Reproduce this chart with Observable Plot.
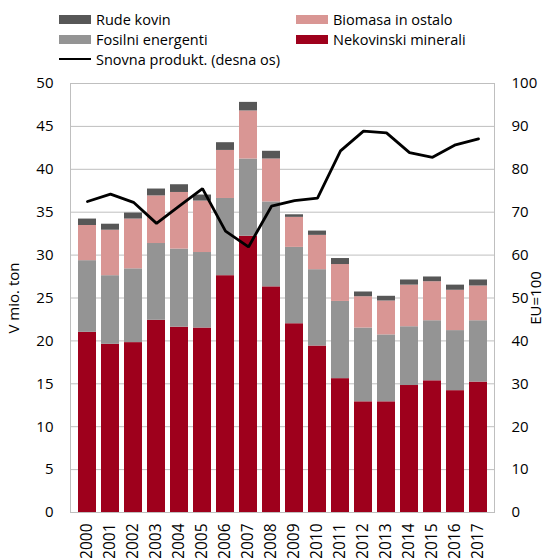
<!DOCTYPE html>
<html>
<head>
<meta charset="utf-8">
<script src="https://cdn.jsdelivr.net/npm/d3@7"></script>
<script src="https://cdn.jsdelivr.net/npm/@observablehq/plot@0.6"></script>
<style>
  html, body { margin: 0; padding: 0; background: #fff; overflow: hidden; }
  #wrap { position: relative; width: 556px; height: 558px; overflow: hidden; font-family: "Open Sans", sans-serif; }
  #legend { position: absolute; left: 0; top: 0; width: 556px; height: 70px; font-size: 14.5px; color: #000; }
  .item { position: absolute; display: flex; align-items: center; white-space: nowrap; }
  .sw { width: 32px; height: 9px; margin-right: 5px; }
  .ln { width: 32px; height: 2.5px; background: #000; margin-right: 5px; }
  #chart { position: absolute; left: 0; top: 70px; }
</style>
</head>
<body>
<div id="wrap">
  <div id="legend"></div>
  <div id="chart"></div>
</div>
<script>
const years = ["2000","2001","2002","2003","2004","2005","2006","2007","2008","2009","2010","2011","2012","2013","2014","2015","2016","2017"];
const seriesNames = ["Nekovinski minerali","Fosilni energenti","Biomasa in ostalo","Rude kovin"];
const nekovinski = [21.0,19.6,19.8,22.4,21.6,21.5,27.6,32.2,26.3,22.0,19.4,15.6,12.9,12.9,14.8,15.35,14.2,15.2];
const fosilni   = [8.35,8.0,8.6,8.95,9.1,8.8,9.0,9.0,9.9,8.9,8.9,9.0,8.6,7.8,6.85,7.0,7.0,7.15];
const biomasa   = [4.1,5.3,5.8,5.55,6.6,6.0,5.6,5.6,5.0,3.5,4.0,4.3,3.65,3.95,4.85,4.55,4.7,4.05];
const rude      = [0.75,0.7,0.7,0.8,0.9,0.7,0.9,1.0,0.9,0.3,0.5,0.7,0.55,0.55,0.6,0.55,0.6,0.7];
const produkt   = [72.5,74.2,72.3,67.4,71.5,75.5,65.6,61.9,71.4,72.7,73.3,84.3,88.9,88.5,83.9,82.8,85.7,87.1];
const leftTicks = [0,5,10,15,20,25,30,35,40,45,50];
const rightTicks = [0,10,20,30,40,50,60,70,80,90,100];
const colors = ["#9e001c","#949494","#d99694","#575757"];
const lineLabel = "Snovna produkt. (desna os)";

const valuesBySeries = [nekovinski, fosilni, biomasa, rude];
const rows = [];
seriesNames.forEach((s, si) => years.forEach((y, i) => rows.push({year: y, series: s, value: valuesBySeries[si][i]})));
const lineRows = years.map((y, i) => ({year: y, v: produkt[i]}));

// legend
const legend = document.getElementById("legend");
const legItems = [
  {label: "Rude kovin", color: colors[3], x: 59, y: 19},
  {label: "Biomasa in ostalo", color: colors[2], x: 296, y: 19},
  {label: "Fosilni energenti", color: colors[1], x: 59, y: 39},
  {label: "Nekovinski minerali", color: colors[0], x: 296, y: 39},
  {label: lineLabel, line: true, x: 59, y: 59}
];
legItems.forEach(it => {
  const d = document.createElement("div");
  d.className = "item";
  d.style.left = it.x + "px";
  d.style.top = (it.y - 10) + "px";
  d.style.height = "20px";
  const s = document.createElement("div");
  s.className = it.line ? "ln" : "sw";
  if (!it.line) s.style.background = it.color;
  d.appendChild(s);
  const t = document.createElement("span");
  t.textContent = it.label;
  d.appendChild(t);
  legend.appendChild(d);
});

const chart = Plot.plot({
  width: 556,
  height: 488,
  marginTop: 13,
  marginBottom: 46,
  marginLeft: 70,
  marginRight: 62,
  style: {fontFamily: "Open Sans, sans-serif", fontSize: "15px", color: "#000", background: "#fff", overflow: "visible"},
  x: {domain: years, paddingInner: 0.23, paddingOuter: 0.1, label: null},
  y: {domain: [0, 50], label: null},
  color: {domain: seriesNames, range: colors},
  marks: [
    Plot.gridY(leftTicks, {stroke: "#bfbfbf", strokeOpacity: 1, strokeWidth: 1}),
    Plot.barY(rows, {x: "year", y: "value", fill: "series", order: seriesNames}),
    Plot.frame({stroke: "#bfbfbf", strokeWidth: 1}),
    Plot.lineY(lineRows, {x: "year", y: d => d.v / 2, stroke: "#000", strokeWidth: 2.8, strokeLinejoin: "miter"}),
    Plot.axisY(leftTicks, {anchor: "left", tickSize: 0, tickPadding: 17, label: "V mio. ton", labelAnchor: "center", labelArrow: "none", labelOffset: 62}),
    Plot.axisY(rightTicks.map(v => v / 2), {anchor: "right", tickSize: 0, tickPadding: 17, tickFormat: d => String(d * 2), textAnchor: "start", label: "EU=100", labelAnchor: "center", labelArrow: "none", labelOffset: 46}),
    Plot.axisX(years, {anchor: "bottom", tickSize: 0, tickPadding: 11, tickRotate: -90, fontSize: 15.5, label: null})
  ]
});
document.getElementById("chart").appendChild(chart);
</script>
</body>
</html>
